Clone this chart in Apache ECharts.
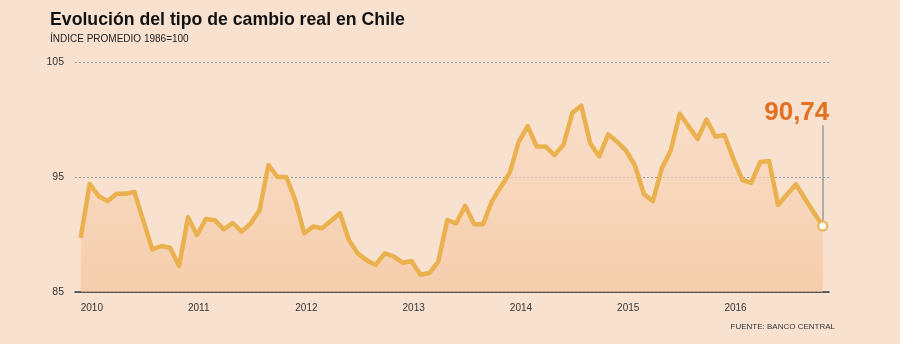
<!DOCTYPE html>
<html><head><meta charset="utf-8">
<script src="https://cdn.jsdelivr.net/npm/echarts@6/dist/echarts.min.js"></script>
<style>html,body{margin:0;padding:0;background:#f9e1cf}#c{width:900px;height:344px}</style>
</head><body><div id="c"></div>
<script>
const titleText = 'Evolución del tipo de cambio real en Chile';
const subtitleText = 'ÍNDICE PROMEDIO 1986=100';
const sourceText = 'FUENTE: BANCO CENTRAL';
const yearLabels = ['2010','2011','2012','2013','2014','2015','2016'];
const yTicks = [85, 95, 105];
// monthly real exchange rate index, from Jan 2010
const rer = [
  89.7, 94.4, 93.35, 92.9, 93.55, 93.55, 93.7, 91.2, 88.7, 89.0, 88.85, 87.25,
  91.5, 89.95, 91.35, 91.25, 90.45, 91.0, 90.25, 90.95, 92.1, 96.05, 95.0, 95.0,
  93.0, 90.1, 90.7, 90.55, 91.2, 91.85, 89.5, 88.35, 87.75, 87.35, 88.35, 88.1,
  87.55, 87.7, 86.5, 86.65, 87.65, 91.26, 90.97, 92.5, 90.9, 90.9, 92.9, 94.15,
  95.4, 98.07, 99.43, 97.65, 97.65, 96.9, 97.8, 100.6, 101.2, 97.9, 96.8, 98.7,
  98.07, 97.3, 96.0, 93.5, 92.9, 95.75, 97.3, 100.5, 99.4, 98.3, 100.0, 98.5,
  98.65, 96.6, 94.74, 94.5, 96.3, 96.4, 92.57, 93.47, 94.37, 93.13, 91.92, 90.74
];
const annotationLevel = 99.5;

const lineColor = '#ecb14f';
const lastIdx = rer.length - 1;
const lastVal = rer[lastIdx];
const lastLabel = lastVal.toFixed(2).replace('.', ',');
const sans = "'Liberation Sans', Arial, sans-serif";

const chart = echarts.init(document.getElementById('c'), null, {renderer: 'canvas'});
chart.setOption({
  backgroundColor: '#f9e1cf',
  animation: false,
  title: [
    {text: titleText, left: 50, top: 11, padding: 0,
     textStyle: {fontFamily: sans, fontSize: 17.7, fontWeight: 'bold', color: '#111'}},
    {text: subtitleText, left: 50, top: 34, padding: 0,
     textStyle: {fontFamily: sans, fontSize: 10, fontWeight: 'normal', color: '#222'}},
    {text: sourceText, right: 65, top: 323, padding: 0,
     textStyle: {fontFamily: sans, fontSize: 8, fontWeight: 'normal', color: '#333'}}
  ],
  grid: {left: 75, right: 71, top: 62, bottom: 52},
  xAxis: {
    type: 'value', min: -0.64, max: 83.7,
    axisLine: {show: true, onZero: false, lineStyle: {color: '#333', width: 1.5}},
    axisTick: {show: false},
    splitLine: {show: false},
    axisLabel: {
      customValues: yearLabels.map((_, k) => k * 12),
      formatter: v => yearLabels[Math.round(v / 12)],
      align: 'left', margin: 11,
      fontFamily: sans, fontSize: 10, color: '#333'
    }
  },
  yAxis: {
    type: 'value', min: yTicks[0], max: yTicks[yTicks.length - 1], interval: yTicks[1] - yTicks[0],
    axisLine: {show: false}, axisTick: {show: false},
    axisLabel: {margin: 11, fontFamily: sans, fontSize: 10.5, color: '#333'},
    splitLine: {show: true, lineStyle: {color: '#9a9a9a', type: [2, 2], width: 1}}
  },
  series: [
    {
      type: 'line',
      data: rer.map((v, i) => [i, v]),
      symbol: 'none',
      lineStyle: {color: lineColor, width: 4.5, join: 'round'},
      areaStyle: {
        origin: 'start',
        color: new echarts.graphic.LinearGradient(0, 0, 0, 1, [
          {offset: 0, color: '#f9dcc5'},
          {offset: 1, color: '#f4c59d'}
        ])
      },
      z: 2
    },
    {
      type: 'scatter',
      data: [[lastIdx, lastVal]],
      symbol: 'circle', symbolSize: 9,
      itemStyle: {color: '#fff', borderColor: lineColor, borderWidth: 2, opacity: 1},
      z: 5,
      markLine: {
        silent: true, symbol: 'none',
        lineStyle: {color: '#999', width: 1.5, type: 'solid'},
        label: {show: false},
        data: [[{coord: [lastIdx, lastVal]}, {coord: [lastIdx, annotationLevel]}]],
        z: 1
      },
      markPoint: {
        silent: true, symbol: 'circle', symbolSize: 0,
        data: [{coord: [lastIdx, annotationLevel]}],
        label: {
          show: true, formatter: lastLabel, position: 'top', distance: 0, offset: [-26, 1],
          fontFamily: sans, fontSize: 26, fontWeight: 'bold', color: '#e2701e'
        }
      }
    }
  ]
});
</script></body></html>
